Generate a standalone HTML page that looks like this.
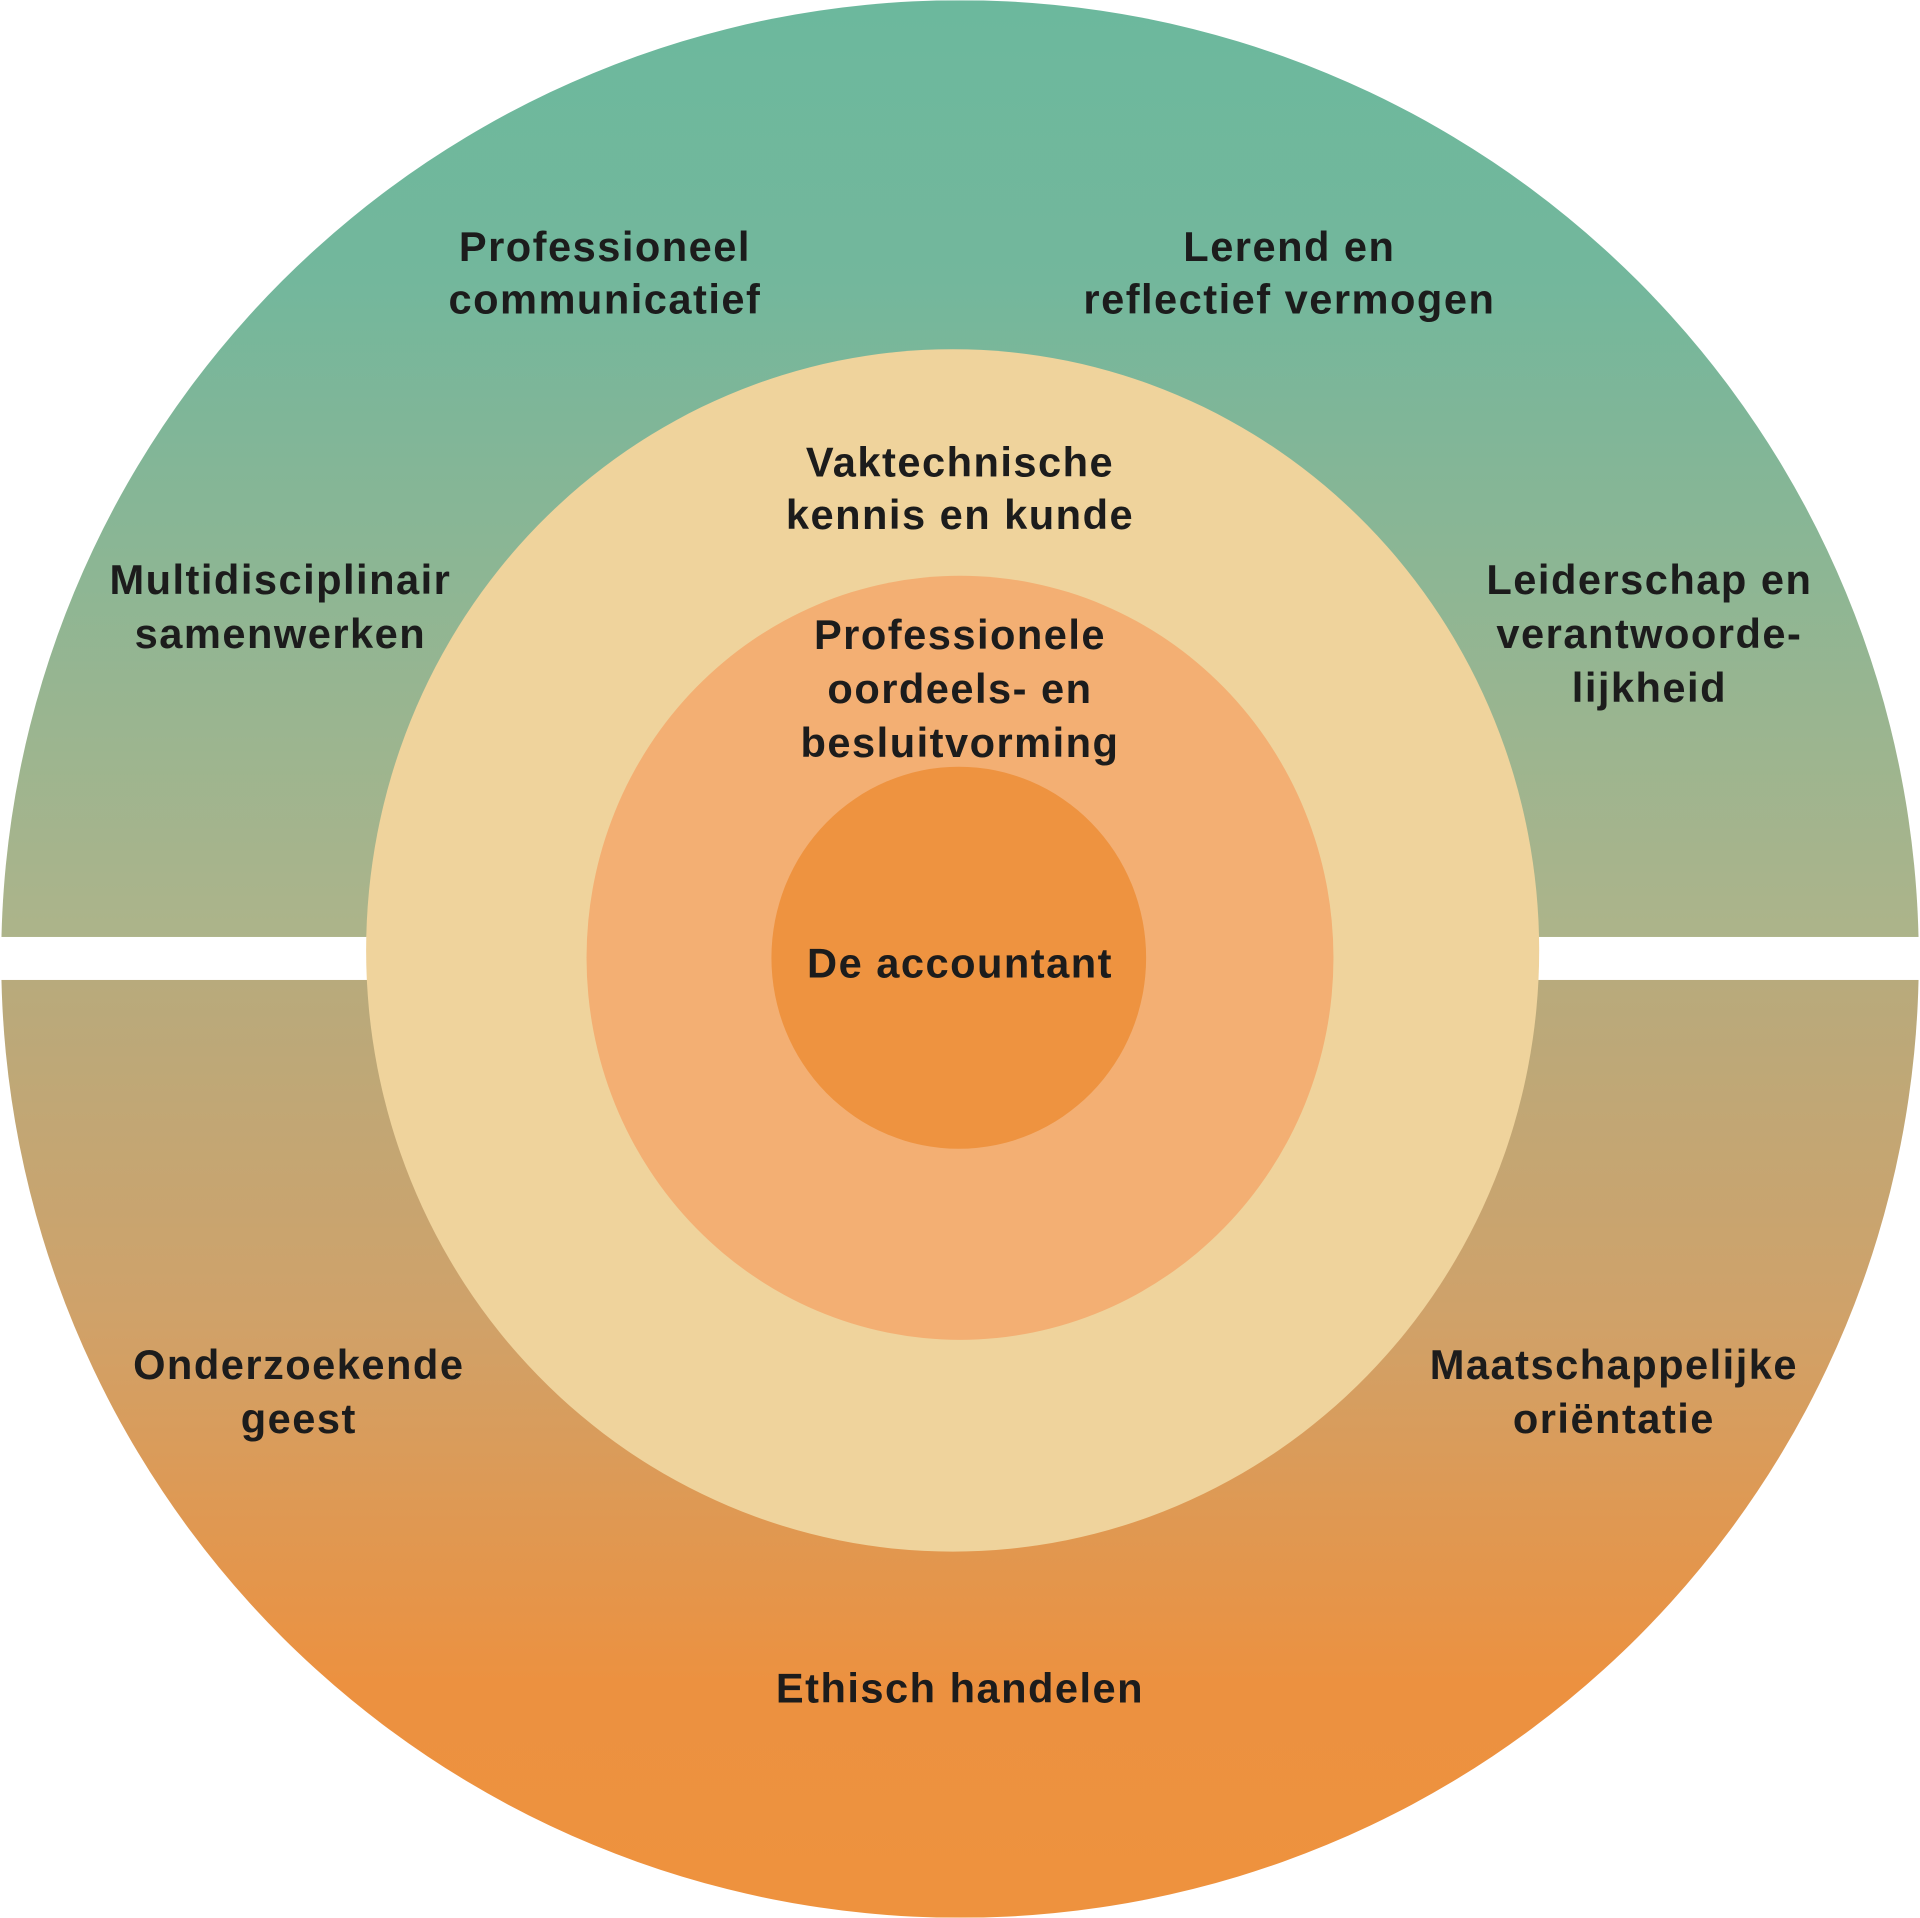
<!DOCTYPE html>
<html><head><meta charset="utf-8"><style>html,body{margin:0;padding:0;background:#fff}svg{display:block}</style></head>
<body>
<svg width="1920" height="1918" viewBox="0 0 1568 1566" xmlns="http://www.w3.org/2000/svg">
<defs>
<linearGradient id="top" x1="0" y1="0" x2="0" y2="1">
<stop offset="0" stop-color="#6CB89D"/><stop offset="0.3" stop-color="#73B79C"/><stop offset="1" stop-color="#ADB48A"/></linearGradient>
<linearGradient id="bot" x1="0" y1="0" x2="0" y2="1">
<stop offset="0" stop-color="#B8AA7C"/><stop offset="0.35" stop-color="#CFA26A"/><stop offset="0.75" stop-color="#EC9140"/><stop offset="1" stop-color="#EE923E"/></linearGradient>
<clipPath id="ct"><rect x="0" y="0" width="1568" height="765"/></clipPath>
<clipPath id="cb"><rect x="0" y="800" width="1568" height="766"/></clipPath>
<clipPath id="c0"><circle cx="784" cy="783" r="783"/></clipPath>
</defs>
<g clip-path="url(#cb)"><g clip-path="url(#c0)"><rect x="0" y="800" width="1568" height="766" fill="url(#bot)"/></g></g>
<g clip-path="url(#ct)"><g clip-path="url(#c0)"><rect x="0" y="0" width="1568" height="765" fill="url(#top)"/></g></g>
<ellipse cx="778" cy="776" rx="479" ry="491" fill="#EFD39C"/>
<ellipse cx="784" cy="782" rx="305" ry="312" fill="#F3AF73"/>
<ellipse cx="783" cy="782" rx="153" ry="156" fill="#EE9340"/>
<g font-family="Liberation Sans, sans-serif" font-weight="bold" font-size="34" letter-spacing="1.2" fill="#1c1c1c" text-anchor="middle">
<text x="494" y="213">Professioneel</text><text x="494" y="256">communicatief</text>
<text x="1053" y="213">Lerend en</text><text x="1053" y="256">reflectief vermogen</text>
<text x="784" y="389">Vaktechnische</text><text x="784" y="432">kennis en kunde</text>
<text x="229" y="485">Multidisciplinair</text><text x="229" y="529">samenwerken</text>
<text x="1347" y="485">Leiderschap en</text><text x="1347" y="529">verantwoorde-</text><text x="1347" y="573">lijkheid</text>
<text x="784" y="530">Professionele</text><text x="784" y="574">oordeels- en</text><text x="784" y="618">besluitvorming</text>
<text x="784" y="798">De accountant</text>
<text x="244" y="1126">Onderzoekende</text><text x="244" y="1170">geest</text>
<text x="1318" y="1126">Maatschappelijke</text><text x="1318" y="1170">oriëntatie</text>
<text x="784" y="1390">Ethisch handelen</text>
</g>
</svg>
</body></html>
